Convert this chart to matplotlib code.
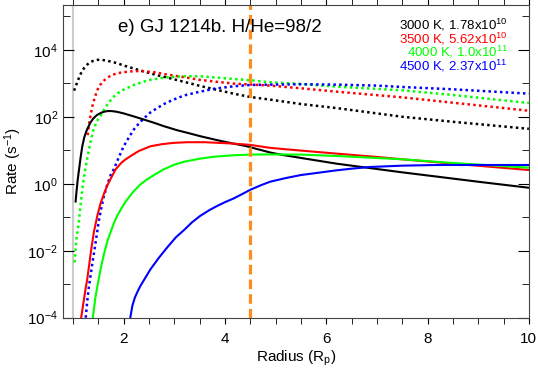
import numpy as np
import matplotlib
matplotlib.use("Agg")
import matplotlib.pyplot as plt
from matplotlib.ticker import FixedLocator, MultipleLocator, NullFormatter

plt.rcParams['font.family'] = ['Liberation Sans', 'DejaVu Sans']
plt.rcParams['mathtext.default'] = 'regular'

# log10(rate); k* = solid curves, d* = dotted curves
k3000_x = [1.05, 1.07, 1.09, 1.12, 1.15, 1.18, 1.22, 1.27, 1.34, 1.4, 1.47, 1.54, 1.61, 1.68, 1.76,
           1.86, 2.0, 2.2, 2.39, 2.6, 2.79, 3.05, 3.31, 3.51, 3.85, 4.16, 4.4, 4.5, 4.9, 5.1, 5.5,
           6.2, 6.8, 7.5, 8.2, 9.0, 10.0]
k3000_y = [-0.53, -0.2, 0.1, 0.45, 0.8, 1.1, 1.38, 1.6, 1.82, 1.95, 2.05, 2.11, 2.15, 2.17, 2.17,
           2.15, 2.1, 2.01, 1.92, 1.82, 1.72, 1.6, 1.5, 1.42, 1.3, 1.2, 1.13, 1.09, 0.93, 0.87, 0.77,
           0.6, 0.48, 0.34, 0.21, 0.06, -0.12]
k3500_x = [1.16, 1.19, 1.22, 1.25, 1.28, 1.32, 1.35, 1.41, 1.48, 1.54, 1.61, 1.67, 1.75, 1.84, 1.95,
           2.03, 2.13, 2.3, 2.53, 2.75, 2.98, 3.25, 3.6, 4.16, 4.5, 4.9, 5.5, 6.2, 7.0, 7.5, 8.5, 10.0]
k3500_y = [-4.0, -3.7, -3.4, -3.1, -2.85, -2.4, -2.05, -1.45, -0.95, -0.6, -0.3, -0.07, 0.17, 0.43, 0.62,
           0.72, 0.82, 0.98, 1.12, 1.18, 1.22, 1.24, 1.24, 1.2, 1.16, 1.07, 0.99, 0.9, 0.8, 0.73, 0.6, 0.41]
k4000_x = [1.39, 1.44, 1.5, 1.55, 1.61, 1.68, 1.74, 1.8, 1.87, 1.95, 2.03, 2.12, 2.2, 2.33, 2.46,
           2.62, 2.79, 3.0, 3.2, 3.51, 3.8, 4.16, 4.5, 4.9, 5.5, 6.2, 7.5, 8.5, 10.0]
k4000_y = [-4.0, -3.4, -2.9, -2.5, -2.1, -1.7, -1.45, -1.2, -0.96, -0.75, -0.55, -0.37, -0.22, -0.02, 0.13,
           0.28, 0.43, 0.57, 0.66, 0.75, 0.81, 0.85, 0.87, 0.875, 0.87, 0.83, 0.73, 0.62, 0.48]
k4500_x = [2.13, 2.17, 2.22, 2.28, 2.33, 2.43, 2.53, 2.7, 2.86, 3.03, 3.2, 3.35, 3.51, 3.7, 3.85,
           4.0, 4.17, 4.35, 4.5, 4.7, 4.89, 5.2, 5.5, 5.85, 6.2, 6.5, 6.86, 7.5, 8.17, 9.0, 10.0]
k4500_y = [-4.0, -3.65, -3.4, -3.2, -3.05, -2.8, -2.55, -2.2, -1.9, -1.6, -1.37, -1.15, -0.96, -0.78, -0.66,
           -0.55, -0.44, -0.3, -0.18, -0.05, 0.06, 0.17, 0.26, 0.33, 0.4, 0.45, 0.5, 0.54, 0.56, 0.56, 0.56]

d3000_x = [1.02, 1.04, 1.07, 1.1, 1.13, 1.17, 1.22, 1.28, 1.34, 1.4, 1.48, 1.56, 1.65, 1.74, 1.87,
           2.0, 2.2, 2.33, 2.5, 2.66, 2.86, 3.2, 3.51, 3.85, 4.17, 4.5, 4.9, 5.5, 6.2, 7.5, 8.5, 10.0]
d3000_y = [2.78, 2.86, 2.98, 3.1, 3.22, 3.34, 3.46, 3.56, 3.63, 3.67, 3.7, 3.7, 3.68, 3.65, 3.6,
           3.53, 3.44, 3.38, 3.31, 3.24, 3.17, 3.04, 2.92, 2.8, 2.69, 2.59, 2.51, 2.38, 2.26, 2.0, 1.85, 1.64]
d3500_x = [1.29, 1.31, 1.34, 1.38, 1.43, 1.48, 1.54, 1.61, 1.68, 1.76, 1.87, 2.0, 2.1, 2.33, 2.6,
           2.86, 3.2, 3.51, 4.17, 4.9, 5.5, 6.2, 7.5, 8.5, 10.0]
d3500_y = [1.45, 1.72, 2.0, 2.31, 2.58, 2.8, 2.96, 3.08, 3.17, 3.24, 3.3, 3.33, 3.35, 3.37, 3.33,
           3.26, 3.18, 3.1, 2.99, 2.93, 2.85, 2.75, 2.58, 2.42, 2.18]
d4000_x = [1.03, 1.05, 1.07, 1.1, 1.12, 1.15, 1.18, 1.21, 1.25, 1.29, 1.34, 1.4, 1.47, 1.54, 1.61,
           1.7, 1.81, 1.9, 2.0, 2.2, 2.5, 2.86, 3.2, 3.51, 4.0, 4.5, 4.9, 5.5, 6.2, 7.5, 8.5, 10.0]
d4000_y = [-2.35, -1.95, -1.6, -1.3, -1.06, -0.6, -0.2, 0.15, 0.5, 0.85, 1.22, 1.6, 1.87, 2.02, 2.21,
           2.42, 2.61, 2.72, 2.81, 2.95, 3.1, 3.18, 3.21, 3.21, 3.15, 3.09, 3.03, 2.98, 2.9, 2.79, 2.65, 2.41]
d4500_x = [1.25, 1.28, 1.31, 1.35, 1.38, 1.42, 1.45, 1.48, 1.51, 1.55, 1.6, 1.67, 1.74, 1.81, 1.9,
           2.0, 2.1, 2.2, 2.3, 2.39, 2.52, 2.66, 2.82, 2.98, 3.2, 3.45, 3.8, 4.17, 4.5, 4.9, 5.5, 6.2,
           7.0, 7.5, 8.5, 10.0]
d4500_y = [-4.0, -3.5, -3.1, -2.7, -2.38, -2.0, -1.7, -1.4, -1.1, -0.78, -0.42, -0.05, 0.25, 0.45, 0.78,
           1.12, 1.38, 1.62, 1.8, 1.94, 2.12, 2.26, 2.4, 2.51, 2.64, 2.73, 2.84, 2.91, 2.95, 2.96, 2.97, 2.96,
           2.93, 2.89, 2.82, 2.69]

labels = ['3000 K, 1.78x10$^{10}$', '3500 K, 5.62x10$^{10}$',
          '4000 K, 1.0x10$^{11}$', '4500 K, 2.37x10$^{11}$']
colors = ['black', '#ff0000', '#00ff00', '#0000ff']

solid = [(k3000_x, k3000_y), (k3500_x, k3500_y), (k4000_x, k4000_y), (k4500_x, k4500_y)]
dotted = [(d3000_x, d3000_y), (d3500_x, d3500_y), (d4000_x, d4000_y), (d4500_x, d4500_y)]

fig = plt.figure(figsize=(5.38, 3.72), dpi=100)
ax = fig.add_axes([0.117, 0.146, 0.866, 0.841])

ax.axvline(1.0, color='#cccccc', lw=1.5, zorder=1)
for (xs, ys), c in zip(dotted, colors):
    ax.plot(xs, 10 ** np.array(ys), color=c, lw=1.8, ls=(0, (1, 1.3)))
for (xs, ys), c in zip(solid, colors):
    ax.plot(xs, 10 ** np.array(ys), color=c, lw=1.5)
ax.axvline(4.5, color='#ff8c1a', lw=2.3, ls=(0, (3, 1.6)))

ax.set_yscale('log')
ax.set_xlim(0.8, 10)
ax.set_ylim(1e-4, 2.2e5)
ax.yaxis.set_major_locator(FixedLocator([1e-4, 1e-2, 1e0, 1e2, 1e4]))
ax.yaxis.set_minor_locator(FixedLocator([1e-3, 1e-1, 1e1, 1e3, 1e5]))
ax.yaxis.set_minor_formatter(NullFormatter())
ax.xaxis.set_major_locator(FixedLocator([2, 4, 6, 8, 10]))
ax.xaxis.set_minor_locator(MultipleLocator(0.5))
ax.tick_params(axis='x', which='both', direction='out', top=True, labelsize=11, pad=6, length=4.5)
ax.tick_params(axis='y', which='major', direction='in', right=True, labelsize=11, length=8)
ax.tick_params(axis='y', which='minor', direction='in', right=True, length=5)
for s in ax.spines.values():
    s.set_color('#444444')

ax.set_xlabel('Radius (R$_p$)', fontsize=11, labelpad=2)
ax.set_ylabel('Rate (s$^{-1}$)', fontsize=11, labelpad=2)

ax.text(0.118, 0.926, 'e) GJ 1214b. H/He=98/2', transform=ax.transAxes, fontsize=13.5, va='center')
for i, (lab, c) in enumerate(zip(labels, colors)):
    ax.text(0.955, 0.936 - i * 0.0437, lab, color=c, fontsize=9.5, ha='right', va='center',
            transform=ax.transAxes)

fig.savefig('out.png', dpi=100)
